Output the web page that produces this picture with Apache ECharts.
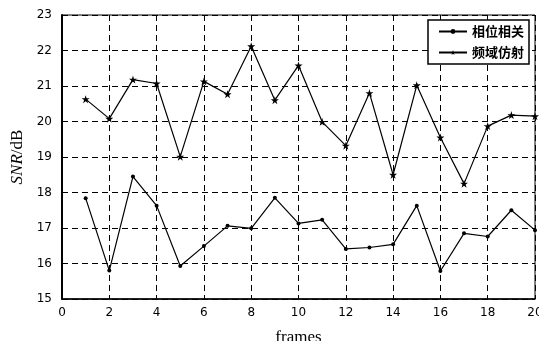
<!DOCTYPE html>
<html>
<head>
<meta charset="utf-8">
<script src="https://cdn.jsdelivr.net/npm/echarts@6/dist/echarts.min.js"></script>
<style>
html,body{margin:0;padding:0;background:#fff;}
#chart{width:539px;height:341px;}
</style>
</head>
<body>
<div id="chart"></div>
<script>
// frame index 1..20
var frames=[1,2,3,4,5,6,7,8,9,10,11,12,13,14,15,16,17,18,19,20];
var phaseCorr=[17.84,15.8,18.45,17.63,15.93,16.49,17.06,16.99,17.85,17.13,17.23,16.41,16.45,16.54,17.63,15.79,16.85,16.76,17.5,16.94];
var freqAffine=[20.63,20.08,21.18,21.07,19.01,21.13,20.77,22.12,20.6,21.58,19.99,19.32,20.8,18.5,21.02,19.55,18.25,19.87,20.18,20.15];
var seriesNames=['相位相关','频域仿射'];
var xTicks=[0,20,2];
var yTicks=[15,23,1];

var starPath='path://M5,0 L6.2,3.6 L10,3.6 L7,5.9 L8.1,9.5 L5,7.3 L1.9,9.5 L3,5.9 L0,3.6 L3.8,3.6 Z';

function pairs(xs,ys){
    var out=[];
    for(var i=0;i<xs.length;i++){out.push([xs[i],ys[i]]);}
    return out;
}
var tickFont={color:'#000',fontFamily:'DejaVu Sans',fontSize:12};
var dash={color:'#000',type:[6,4],width:1};

var option={
    backgroundColor:'#fff',
    animation:false,
    grid:{left:62,right:4,top:15,bottom:42,show:true,borderColor:'#000',borderWidth:1,
        outerBoundsMode:'none',containLabel:false},
    legend:{
        right:10,top:20,orient:'vertical',
        backgroundColor:'#fff',borderColor:'#000',borderWidth:1.5,
        padding:[5,5,5,10],itemGap:8,itemWidth:28,itemHeight:6,
        textStyle:{color:'#000',fontSize:13,fontFamily:'Noto Sans CJK SC',fontWeight:'bold'},
        data:seriesNames
    },
    xAxis:{
        type:'value',min:xTicks[0],max:xTicks[1],interval:xTicks[2],
        name:'frames',nameLocation:'middle',nameGap:30,
        nameTextStyle:{color:'#000',fontFamily:'Liberation Serif',fontSize:17},
        axisLine:{show:true,onZero:false,lineStyle:{color:'#000',width:1.5}},
        axisTick:{show:true,inside:true,length:4,lineStyle:{color:'#000'}},
        axisLabel:Object.assign({margin:8},tickFont),
        splitLine:{show:true,lineStyle:dash}
    },
    yAxis:{
        type:'value',min:yTicks[0],max:yTicks[1],interval:yTicks[2],
        name:'{i|SNR}/dB',nameLocation:'middle',nameGap:32,
        nameTextStyle:{color:'#000',fontFamily:'Liberation Serif',fontSize:17,
            rich:{i:{fontStyle:'italic',fontFamily:'Liberation Serif',fontSize:17,color:'#000'}}},
        axisLine:{show:true,lineStyle:{color:'#000',width:2}},
        axisTick:{show:true,inside:true,length:4,lineStyle:{color:'#000'}},
        axisLabel:Object.assign({margin:10},tickFont),
        splitLine:{show:true,lineStyle:dash}
    },
    series:[
        {
            name:seriesNames[0],type:'line',data:pairs(frames,phaseCorr),
            symbol:'circle',symbolSize:4,
            lineStyle:{color:'#000',width:1.2},itemStyle:{color:'#000'}
        },
        {
            name:seriesNames[1],type:'line',data:pairs(frames,freqAffine),
            symbol:starPath,symbolSize:8,
            lineStyle:{color:'#000',width:1.2},itemStyle:{color:'#000'}
        }
    ]
};
var chart=echarts.init(document.getElementById('chart'));
chart.setOption(option);
</script>
</body>
</html>
